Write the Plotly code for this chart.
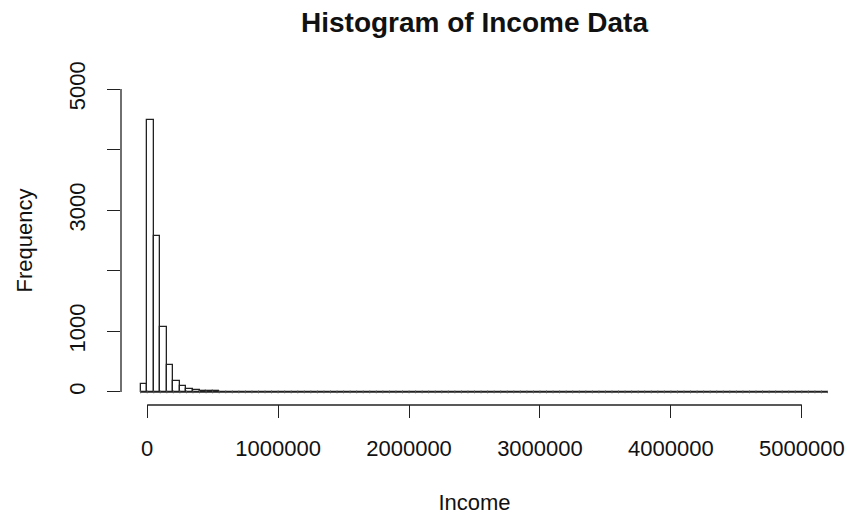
import plotly.graph_objects as go

# Histogram bins: 50,000-wide income classes starting at -50,000
bin_start = -50000
bin_width = 50000
counts = [
    127, 4483, 2568, 1073, 440, 180, 100, 50, 28, 16,
    10, 7, 5, 4, 3, 2, 2, 1, 1, 1,
    1, 0, 1, 0, 0, 1, 0, 0, 0, 0,
    0, 0, 0, 0, 0, 0, 0, 0, 0, 0,
    0, 1, 0, 0, 0, 0, 0, 0, 0, 0,
    0, 0, 0, 0, 0, 0, 0, 0, 0, 0,
    0, 0, 0, 0, 0, 0, 0, 0, 0, 0,
    0, 0, 0, 0, 0, 0, 0, 0, 0, 0,
    0, 0, 0, 0, 0, 0, 0, 0, 0, 0,
    0, 0, 0, 0, 0, 0, 0, 0, 0, 0,
    0, 0, 0, 0, 1,
]

x_ticks = [0, 1000000, 2000000, 3000000, 4000000, 5000000]
x_tick_labels = ["0", "1000000", "2000000", "3000000", "4000000", "5000000"]
y_ticks = [0, 1000, 2000, 3000, 4000, 5000]
y_tick_labels = ["0", "1000", "", "3000", "", "5000"]

edges = [bin_start + i * bin_width for i in range(len(counts) + 1)]
centers = [(a + b) / 2 for a, b in zip(edges[:-1], edges[1:])]

FONT = "Liberation Sans, Arial, sans-serif"
INK = "#222222"

fig = go.Figure()

# baseline of empty bins with faint bin-edge marks
fig.add_trace(go.Scatter(
    x=edges, y=[0] * len(edges),
    mode="lines+markers",
    line=dict(color=INK, width=1.5),
    marker=dict(symbol="line-ns", size=2, line=dict(color="#555555", width=1)),
    hoverinfo="skip", showlegend=False,
))

fig.add_trace(go.Bar(
    x=centers, y=counts, width=bin_width,
    marker=dict(color="white", line=dict(color=INK, width=1.3)),
    showlegend=False,
))

# R-style axis lines spanning first to last tick only
fig.add_shape(type="line", xref="x", yref="paper",
              x0=x_ticks[0], x1=x_ticks[-1], y0=-0.003, y1=-0.003,
              line=dict(color=INK, width=1.3))
fig.add_shape(type="line", xref="paper", yref="y",
              x0=0, x1=0, y0=y_ticks[0], y1=y_ticks[-1],
              line=dict(color=INK, width=1.3))

fig.update_layout(
    width=848, height=517, autosize=False,
    margin=dict(l=121, r=20, t=77, b=113),
    paper_bgcolor="white", plot_bgcolor="white",
    font=dict(family=FONT, size=22, color="#111111"),
    bargap=0,
    title=dict(text="<b>Histogram of Income Data</b>",
               x=0.5, xref="paper", xanchor="center",
               y=1 - 22 / 517, yref="container", yanchor="middle",
               font=dict(family=FONT, size=28, color="#111111")),
    xaxis=dict(
        range=[-200000, 5200000],
        tickvals=x_ticks, ticktext=x_tick_labels,
        ticks="outside", ticklen=13, tickwidth=1.3, tickcolor=INK,
        showline=False, showgrid=False, zeroline=False,
        ticklabelstandoff=12, automargin=False,
        title=dict(text="Income", standoff=34, font=dict(size=22)),
    ),
    yaxis=dict(
        range=[-200, 5200],
        tickvals=y_ticks, ticktext=y_tick_labels,
        tickangle=-90,
        ticks="outside", ticklen=13, tickwidth=1.3, tickcolor=INK,
        showline=False, showgrid=False, zeroline=False,
        ticklabelstandoff=13, automargin=False,
        title=dict(text="Frequency", standoff=26, font=dict(size=22)),
    ),
)

fig.write_html("out.html")
